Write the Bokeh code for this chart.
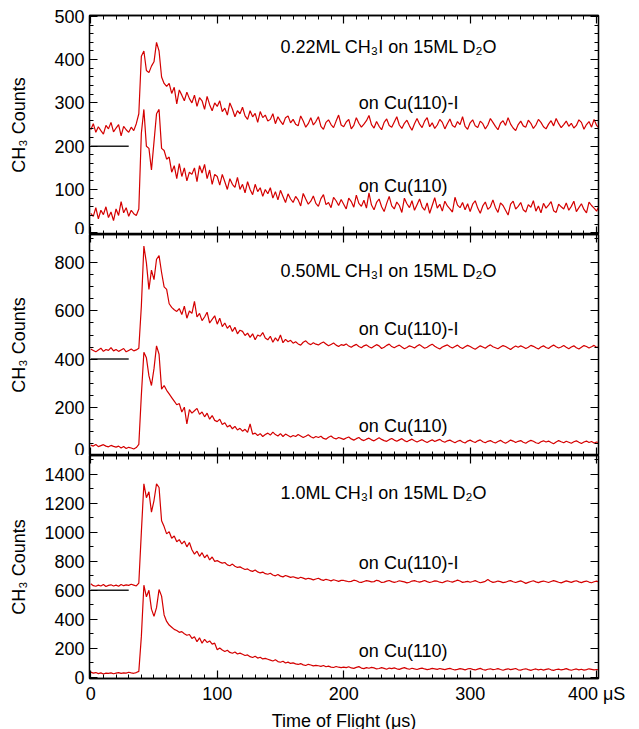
from bokeh.plotting import figure
from bokeh.layouts import column
from bokeh.models import Label, LinearAxis, SingleIntervalTicker, Range1d
from bokeh.embed import file_html
from bokeh.resources import INLINE

# ---------------- data ----------------
t_us = list(range(0, 404, 2))

# panel 1: 0.22ML CH3I on 15ML D2O
p1_cu_i = [238, 252, 232, 245, 236, 228, 248, 240, 255, 233,
           242, 250, 224, 246, 238, 232, 244, 236, 252, 275,
           408, 420, 375, 370, 385, 395, 440, 420, 360, 345,
           338, 345, 322, 336, 298, 330, 318, 305, 325, 310,
           300, 318, 292, 312, 305, 285, 315, 296, 282, 300,
           292, 305, 280, 288, 272, 300, 286, 268, 282, 275,
           290, 270, 262, 282, 268, 276, 255, 280, 266, 272,
           258, 262, 275, 252, 268, 258, 250, 266, 270, 254,
           262, 251, 247, 270, 258, 244, 252, 266, 249, 257,
           268, 246, 239, 255, 261, 250, 243, 258, 272, 249,
           245, 256, 262, 240, 248, 266, 253, 244, 251, 259,
           271, 250, 242, 257, 246, 238, 255, 263, 248, 244,
           256, 268, 249, 241, 253, 260, 247, 237, 252, 264,
           251, 243, 258, 266, 245, 254, 241, 249, 262, 255,
           240, 252, 263, 248, 244, 257, 250, 268, 246, 239,
           254, 261, 247, 243, 258, 252, 240, 249, 264, 255,
           246, 238, 253, 259, 248, 266, 251, 242, 236, 250,
           258, 247, 244, 260, 253, 241, 249, 262, 255, 245,
           240, 251, 259, 247, 264, 252, 243, 250, 258, 246,
           253, 242, 248, 261, 255, 239, 250, 257, 244, 262,
           248, 241]
p1_cu = [45, 38, 58, 32, 52, 42, 60, 35, 48, 28,
         55, 40, 72, 46, 58, 38, 52, 44, 40, 55,
         230, 285, 200, 195, 145, 210, 275, 285, 195, 190,
         170, 175, 140, 155, 125, 160, 130, 150, 120, 140,
         135, 150, 118, 155, 138, 158, 125, 145, 112, 135,
         130, 110, 135, 118, 100, 125, 112, 105, 128, 100,
         112, 92, 118, 100, 88, 112, 95, 104, 84, 100,
         90, 104, 80, 95, 76, 98, 84, 70, 90, 78,
         70, 84, 76, 62, 91, 78, 66, 73, 85, 68,
         61, 79, 88, 65, 70, 58, 82, 74, 63, 77,
         66, 55, 80, 72, 59, 87, 68, 61, 75, 57,
         92, 64, 53, 70, 78, 60, 49, 68, 84, 62,
         55, 71, 63, 47, 80, 67, 58, 74, 52, 65,
         78, 60, 52, 69, 45, 63, 81, 57, 66, 50,
         73, 62, 55, 48, 82, 64, 58, 70, 53, 67,
         49, 66, 74, 57, 45, 62, 71, 54, 60, 76,
         58, 47, 69, 63, 52, 41, 66, 73, 55, 61,
         70, 53, 48, 65, 59, 74, 50, 62, 46, 68,
         57, 64, 72, 51, 47, 66, 60, 55, 69, 52,
         61, 73, 49, 58, 67, 54, 46, 71, 63, 57,
         50, 62]

# panel 2: 0.50ML CH3I on 15ML D2O
p2_cu_i = [442, 436, 430, 438, 445, 432, 440, 436, 448, 434,
           440, 432, 438, 444, 430, 436, 442, 434, 438, 445,
           620, 870, 800, 690, 770, 730, 815, 830, 760, 700,
           690, 630, 615, 605, 598, 610, 585, 620, 570, 600,
           590, 640, 575, 590, 560, 575, 595, 550, 565, 580,
           545, 570, 535, 550, 528, 540, 515, 532, 505, 520,
           515, 498, 508, 490, 505, 480, 500, 495, 510, 488,
           480, 495, 470, 488, 475, 500, 468, 482, 472, 478,
           466, 472, 463, 458, 470, 476, 465, 460, 468, 462,
           459, 466, 471, 463, 455, 461, 467, 458, 452, 460,
           457, 463, 454, 449, 456, 461, 452, 447, 455, 459,
           451, 446, 453, 460, 455, 444, 449, 457, 462, 452,
           447, 453, 458, 450, 443, 448, 455, 451, 446, 454,
           460, 452, 445, 449, 456, 462, 453, 447, 442, 450,
           455, 459, 451, 446, 452, 458, 449, 444, 451, 457,
           452, 446, 441, 448, 455, 450, 445, 453, 459, 451,
           447, 443, 450, 456, 452, 446, 440, 448, 454, 449,
           455, 450, 444, 449, 457, 453, 447, 442, 450, 455,
           448, 444, 452, 458, 451, 446, 450, 456, 449, 443,
           450, 455, 447, 442, 449, 456, 452, 446, 451, 457,
           448, 452]
p2_cu = [42, 38, 45, 36, 40, 44, 38, 35, 41, 37,
         34, 38, 30, 36, 28, 33, 30, 26, 32, 45,
         250, 428, 405, 330, 290, 360, 455, 420, 275, 290,
         270, 255, 240, 225, 210, 215, 180, 200, 130, 190,
         175, 185, 195, 170, 180, 160, 175, 150, 165, 145,
         140, 150, 128, 135, 118, 125, 110, 120, 105, 112,
         100, 108, 95, 130, 88, 92, 82, 90, 78, 86,
         92, 84, 96, 86, 80, 90, 78, 88, 82, 76,
         82, 78, 86, 80, 74, 79, 85, 77, 72, 78,
         74, 79, 70, 67, 75, 80, 72, 68, 74, 70,
         66, 72, 76, 68, 63, 69, 74, 65, 61, 67,
         71, 64, 60, 67, 73, 66, 61, 58, 65, 70,
         63, 58, 64, 69, 61, 56, 62, 67, 60, 55,
         60, 65, 58, 53, 59, 64, 57, 62, 66, 58,
         54, 60, 63, 57, 52, 58, 62, 55, 51, 59,
         63, 57, 53, 60, 64, 56, 52, 58, 61, 55,
         51, 57, 62, 55, 50, 56, 63, 59, 53, 58,
         61, 54, 50, 57, 62, 58, 52, 49, 56, 60,
         55, 59, 53, 48, 55, 61, 56, 52, 58, 54,
         50, 56, 60, 54, 49, 55, 59, 53, 57, 51,
         55, 53]

# panel 3: 1.0ML CH3I on 15ML D2O
p3_cu_i = [645, 632, 628, 636, 630, 640, 626, 634, 638, 630,
           636, 628, 640, 632, 638, 634, 642, 636, 630, 650,
           1000, 1335, 1240, 1280, 1140, 1220, 1335, 1310, 1080, 1040,
           990, 1005, 960, 975, 935, 950, 920, 940, 900, 930,
           880, 850, 870, 835, 860, 825, 845, 810, 830, 800,
           805, 795, 788, 792, 776, 770, 781, 766, 758, 762,
           752, 744, 748, 736, 731, 740, 727, 720, 726, 715,
           711, 718, 706, 700, 709, 698, 693, 702, 696, 689,
           694, 688, 682, 690, 684, 677, 683, 679, 672, 678,
           683, 674, 669, 676, 671, 665, 673, 668, 662, 669,
           668, 664, 659, 662, 670, 666, 657, 655, 661, 667,
           663, 658, 660, 669, 665, 654, 657, 663, 668, 660,
           655, 659, 666, 662, 658, 651, 656, 664, 667, 661,
           657, 662, 668, 660, 654, 659, 665, 663, 656, 652,
           660, 666, 661, 657, 663, 670, 664, 655, 658, 662,
           656, 661, 667, 659, 652, 657, 662, 674, 663, 655,
           658, 664, 660, 653, 656, 663, 667, 659, 654, 660,
           665, 657, 648, 655, 661, 666, 658, 653, 660, 664,
           659, 654, 661, 667, 662, 656, 651, 658, 665, 660,
           655, 662, 666, 658, 653, 660, 664, 657, 652, 659,
           663, 657]
p3_cu = [35, 28, 32, 25, 30, 22, 28, 26, 30, 24,
         28, 32, 26, 30, 28, 34, 30, 27, 32, 40,
         280, 635, 555, 600, 470, 420, 480, 605, 560, 430,
         385, 360, 345, 330, 322, 310, 315, 300, 290, 295,
         268, 280, 245, 272, 235, 262, 240, 250, 228, 235,
         190, 202, 188, 178, 186, 171, 165, 174, 160, 166,
         158, 150, 154, 142, 136, 145, 132, 138, 126, 130,
         124, 118, 112, 120, 108, 103, 110, 98, 104, 95,
         99, 92, 88, 94, 85, 81, 89, 84, 78, 82,
         79, 75, 81, 72, 76, 70, 67, 74, 69, 66,
         70, 66, 72, 64, 61, 68, 73, 63, 59, 66,
         62, 68, 64, 57, 60, 66, 61, 55, 63, 59,
         64, 58, 54, 61, 66, 59, 55, 62, 57, 53,
         59, 63, 57, 52, 56, 61, 58, 54, 60, 56,
         52, 57, 61, 55, 50, 54, 59, 56, 51, 57,
         60, 54, 50, 56, 61, 53, 49, 55, 58, 52,
         55, 59, 53, 48, 54, 58, 52, 56, 60, 51,
         49, 55, 58, 52, 47, 53, 57, 51, 55, 49,
         54, 58, 51, 47, 53, 56, 50, 54, 59, 52,
         48, 53, 57, 51, 55, 49, 52, 58, 54, 50,
         53, 51]

panel_titles = ["0.22ML CH\u2083I on 15ML D\u2082O",
                "0.50ML CH\u2083I on 15ML D\u2082O",
                "1.0ML CH\u2083I on 15ML D\u2082O"]
offset_levels = [200, 400, 600]
offset_mark_x = [0, 30]
x_tick_labels = {400: "400 \u03bcS"}

# ---------------- style ----------------
RED = "#d40000"
FONT = "Liberation Sans"
FS = "18px"
FRAME_W = 509
X_LO, X_HI = -1, 401.5
PX_PER_X = FRAME_W / (X_HI - X_LO)


def style_axis(ax, ticker, labels=True):
    ax.ticker = ticker
    ax.major_tick_in = 8
    ax.major_tick_out = 0
    ax.minor_tick_in = 4
    ax.minor_tick_out = 0
    ax.axis_line_color = "black"
    ax.axis_line_width = 1.3
    ax.major_tick_line_color = "black"
    ax.major_tick_line_width = 1.2
    ax.minor_tick_line_color = "black"
    ax.minor_tick_line_width = 1.0
    ax.major_label_text_font = FONT
    ax.major_label_text_color = "black"
    if labels:
        ax.major_label_text_font_size = FS
        ax.major_label_standoff = 5
    else:
        ax.major_label_text_font_size = "0px"
        ax.major_label_standoff = 0


def make_panel(series_i, series_0, ylo, yhi, yint, yminor, frame_h, title,
               title_y, lab_i_y, lab_0_y, level, ylab_standoff,
               top_border=0, bottom=False, zero_above=None):
    p = figure(frame_width=FRAME_W, frame_height=frame_h,
               x_range=Range1d(X_LO, X_HI), y_range=Range1d(ylo, yhi),
               output_backend="svg", toolbar_location=None,
               min_border_left=89, min_border_right=35,
               min_border_top=top_border, min_border_bottom=0)
    p.grid.visible = False
    p.outline_line_color = "black"
    p.outline_line_width = 1.3
    p.background_fill_color = "white"
    p.border_fill_color = "white"

    xt = SingleIntervalTicker(interval=100, num_minor_ticks=10)
    yt = SingleIntervalTicker(interval=yint, num_minor_ticks=yminor)

    style_axis(p.xaxis[0], xt, labels=bottom)
    if bottom:
        p.xaxis[0].major_label_overrides = x_tick_labels
        p.xaxis[0].axis_label = "Time of Flight (\u03bcs)"
        p.xaxis[0].axis_label_text_font = FONT
        p.xaxis[0].axis_label_text_font_style = "normal"
        p.xaxis[0].axis_label_text_font_size = FS
        p.xaxis[0].axis_label_text_color = "black"
        p.xaxis[0].axis_label_standoff = 4
    else:
        p.xaxis[0].axis_label = None

    style_axis(p.yaxis[0], yt, labels=True)
    p.yaxis[0].axis_label = "CH\u2083 Counts"
    p.yaxis[0].axis_label_text_font = FONT
    p.yaxis[0].axis_label_text_font_style = "normal"
    p.yaxis[0].axis_label_text_font_size = FS
    p.yaxis[0].axis_label_text_color = "black"
    p.yaxis[0].axis_label_standoff = ylab_standoff

    top = LinearAxis()
    style_axis(top, SingleIntervalTicker(interval=100, num_minor_ticks=10), labels=False)
    p.add_layout(top, "above")
    right = LinearAxis()
    style_axis(right, SingleIntervalTicker(interval=yint, num_minor_ticks=yminor), labels=False)
    p.add_layout(right, "right")

    p.line(t_us, series_i, line_color=RED, line_width=1.2)
    p.line(t_us, series_0, line_color=RED, line_width=1.2)
    p.line(offset_mark_x, [level, level], line_color="#222222", line_width=1.5)

    for txt, tx, ty in [(title, 150, title_y), ("on Cu(110)-I", 212, lab_i_y),
                        ("on Cu(110)", 212, lab_0_y)]:
        p.add_layout(Label(x=tx, y=ty, text=txt, text_font=FONT,
                           text_font_size=FS, text_baseline="middle",
                           text_align="left", text_color="black"))

    # lower half of the "0" tick label of the panel above, which sits on the shared edge
    if zero_above is not None:
        px_offset = zero_above  # pixels above this frame's top edge
        p.add_layout(Label(x=X_LO - 5 / PX_PER_X,
                           y=yhi + px_offset * (yhi - ylo) / frame_h,
                           text="0", text_font=FONT, text_font_size=FS,
                           text_baseline="middle", text_align="right",
                           text_color="black"))
    return p


p1 = make_panel(p1_cu_i, p1_cu, -4, 502, 100, 5, 219, panel_titles[0],
                430, 299, 107, offset_levels[0], 22, top_border=15)
p2 = make_panel(p2_cu_i, p2_cu, -1, 918, 200, 4, 221, panel_titles[1],
                766, 525, 122, offset_levels[1], 22,
                zero_above=4 * 219 / 506)
p3 = make_panel(p3_cu_i, p3_cu, -9, 1531, 200, 2, 223, panel_titles[2],
                1269, 790, 184, offset_levels[2], 12, bottom=True,
                zero_above=1 * 221 / 919)

layout = column(p1, p2, p3, spacing=0)

open("out.html", "w").write(file_html(layout, INLINE))
